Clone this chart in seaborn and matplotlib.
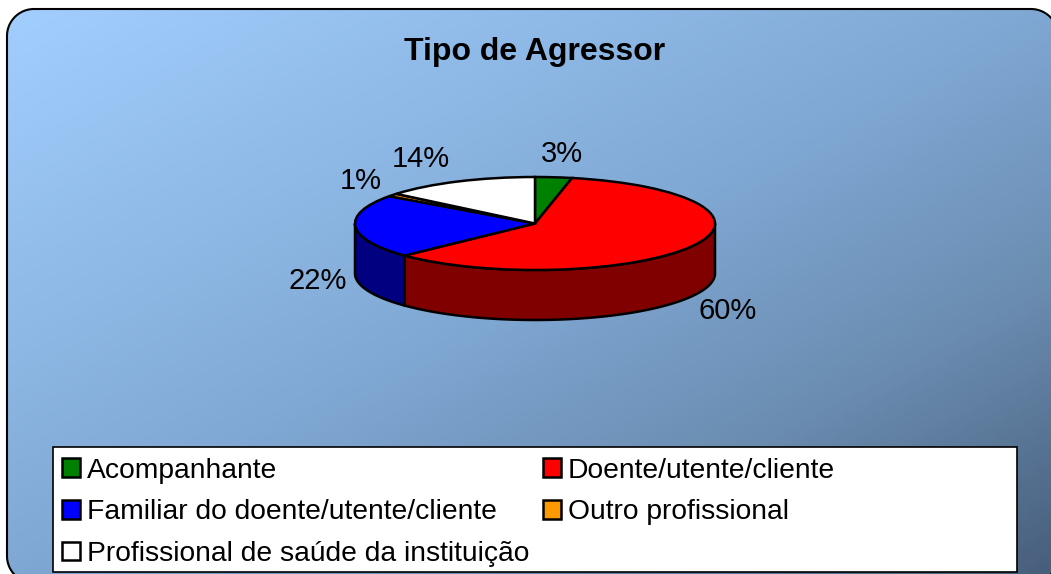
import numpy as np
import matplotlib
matplotlib.use("Agg")
import matplotlib.pyplot as plt
from matplotlib.colors import LinearSegmentedColormap
from matplotlib.patches import Rectangle, Patch, Polygon
import seaborn as sns

categories = ["Acompanhante", "Doente/utente/cliente", "Familiar do doente/utente/cliente",
              "Outro profissional", "Profissional de saúde da instituição"]
values = [3.3, 59.6, 22.1, 1.0, 14.0]
top_colors = ["#008000", "#FF0000", "#0000FF", "#FF9900", "#FFFFFF"]
wall_colors = ["#004000", "#800000", "#000080", "#804C00", "#808080"]
title = "Tipo de Agressor"

sns.set_theme(style="white")
plt.rcParams["font.family"] = ["Liberation Sans", "DejaVu Sans"]

W, H = 1051, 574
fig = plt.figure(figsize=(W / 100, H / 100), dpi=100, facecolor="white")

# Background panel in pixel coordinates
bg = fig.add_axes([0, 0, 1, 1])
cmap = LinearSegmentedColormap.from_list(
    "panel", [(0, "#A2CFFF"), (0.5, "#80A8D4"), (0.75, "#6A8CB0"), (1, "#485F7C")])
xx, yy = np.meshgrid(np.linspace(0, 1, 200), np.linspace(0, 1, 120))
img = bg.imshow((xx + yy) / 2, cmap=cmap, extent=(0, W, H, 0), aspect="auto", vmin=0, vmax=1, zorder=1)


def rounded_outline(x0, y0, x1, y1, r, n=24):
    corners = [(x1 - r, y0 + r, -90, 0), (x1 - r, y1 - r, 0, 90),
               (x0 + r, y1 - r, 90, 180), (x0 + r, y0 + r, 180, 270)]
    pts = []
    for ccx, ccy, a, b in corners:
        t = np.radians(np.linspace(a, b, n))
        pts.append(np.column_stack([ccx + r * np.cos(t), ccy + r * np.sin(t)]))
    return np.vstack(pts)


panel = Polygon(rounded_outline(7, 9, 1058, 583, 27), closed=True, fc="none", ec="black", lw=1.5, zorder=2)
bg.add_patch(panel)
img.set_clip_path(panel)
bg.set_xlim(0, W)
bg.set_ylim(H, 0)
bg.axis("off")

bg.text(535, 52, title, fontsize=23, fontweight="bold", ha="center", va="center", color="black", zorder=3)

# Pie data labels
label_xy = [(562, 154), (728, 311), (318, 281), (361, 181), (421, 159)]
for v, (lx, ly) in zip(values, label_xy):
    bg.text(lx, ly, f"{v:.0f}%", fontsize=21, ha="center", va="center", color="black", zorder=3)

# Flattened pie
cx, cy, rx, ry, depth = 535, 223.5, 180, 46.5, 50
xlim = (-1.2, 1.2)
ylim = (-2.4, 1.2)
pw = (xlim[1] - xlim[0]) * rx
ph = (ylim[1] - ylim[0]) * ry
left = cx + xlim[0] * rx
top = cy - ylim[1] * ry
ax = fig.add_axes([left / W, 1 - (top + ph) / H, pw / W, ph / H])
ax.patch.set_alpha(0)
ax.pie(values, colors=top_colors, startangle=90, counterclock=False, radius=1,
       wedgeprops=dict(edgecolor="black", linewidth=1.8, zorder=5))
ax.set_aspect("auto")
ax.set_xlim(*xlim)
ax.set_ylim(*ylim)

d = depth / ry
edges = 90 - np.concatenate([[0], np.cumsum(values)]) * 3.6
for i, col in enumerate(wall_colors):
    a1, a0 = edges[i], edges[i + 1]  # a1 > a0 (clockwise)
    for shift in (0, -360):
        lo, hi = max(a0 + shift, -180), min(a1 + shift, 0)
        if hi > lo:
            t = np.radians(np.linspace(lo, hi, 80))
            xs = np.cos(t)
            ys = np.sin(t)
            poly = np.column_stack([np.r_[xs, xs[::-1]], np.r_[ys, ys[::-1] - d]])
            ax.add_patch(Polygon(poly, closed=True, fc=col, ec="black", lw=1.8, zorder=3))

# Legend
bg.add_patch(Rectangle((52.5, 447), 964.5, 125, fc="white", ec="black", lw=1.2, zorder=3))
order = [0, 2, 4, 1, 3]
handles = [Patch(fc=top_colors[i], ec="black", lw=1.8, label=categories[i]) for i in order]
leg = bg.legend(handles=handles, ncol=2, frameon=False, fontsize=20.3, loc="upper left",
                bbox_to_anchor=(62 / W, 1 - 457.5 / H), bbox_transform=fig.transFigure,
                borderpad=0, borderaxespad=0, handlelength=0.64, handleheight=0.64,
                handletextpad=0.25, labelspacing=0.56, columnspacing=0.47, labelcolor="black")
leg.set_zorder(4)

fig.savefig("out.png", dpi=100, facecolor="white")
